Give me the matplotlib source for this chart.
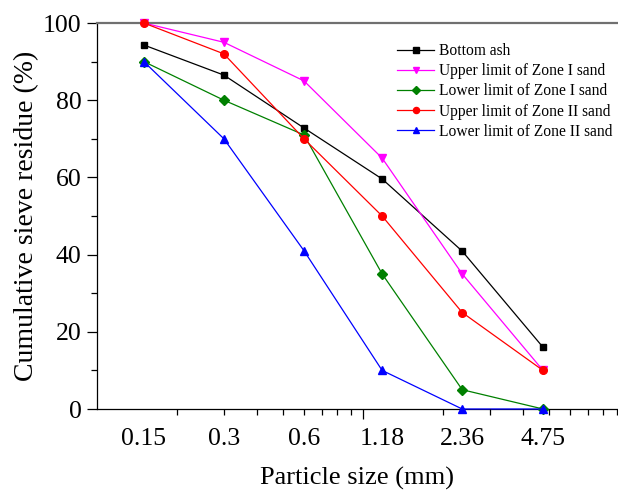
import matplotlib
matplotlib.use("Agg")
import matplotlib.pyplot as plt
from matplotlib.ticker import LogLocator, NullFormatter, FixedLocator

plt.rcParams['font.family'] = ['Liberation Serif', 'DejaVu Serif']

sizes = [0.15, 0.3, 0.6, 1.18, 2.36, 4.75]
size_labels = ['0.15', '0.3', '0.6', '1.18', '2.36', '4.75']
bottom_ash = [94.3, 86.5, 72.8, 59.6, 40.9, 16.0]
upper_zone1 = [100, 95, 85, 65, 35, 10]
lower_zone1 = [90, 80, 71, 35, 5, 0]
upper_zone2 = [100, 92, 70, 50, 25, 10]
lower_zone2 = [90, 70, 41, 10, 0, 0]

series = [
    ("Bottom ash", bottom_ash, "black", "s", 4.8),
    ("Upper limit of Zone I sand", upper_zone1, "#ff00ff", "v", 6),
    ("Lower limit of Zone I sand", lower_zone1, "#008000", "D", 5),
    ("Upper limit of Zone II sand", upper_zone2, "#ff0000", "o", 5.5),
    ("Lower limit of Zone II sand", lower_zone2, "#0000ff", "^", 6),
]

fig = plt.figure(figsize=(6.18, 4.93), dpi=100)
ax = fig.add_axes([97/618, 84/493, 521/618, 386/493])

for name, vals, col, mk, ms in series:
    ax.plot(sizes, vals, color=col, marker=mk, markersize=ms, linewidth=0.9,
            label=name, clip_on=False, zorder=3)

ax.set_xscale('log')
xlim = (0.1, 10 ** ((618 - 97) / 266 - 1))
ax.set_xlim(*xlim)
ax.set_ylim(0, 100)

ax.xaxis.set_major_locator(FixedLocator(sizes))
ax.set_xticklabels(size_labels)
ax.xaxis.set_minor_locator(FixedLocator([]))
ax.xaxis.set_minor_formatter(NullFormatter())
ax.tick_params(axis='x', which='major', length=0, pad=14, labelsize=18.5)

ax.set_yticks([0, 20, 40, 60, 80, 100])
ax.set_yticks([10, 30, 50, 70, 90], minor=True)
ax.tick_params(axis='y', which='major', direction='out', length=7, width=0.9, labelsize=18.5, pad=4)
ax.tick_params(axis='y', which='minor', direction='out', length=4, width=0.9)

ax.spines['right'].set_visible(False)
ax.spines['top'].set_color('#707070')
ax.spines['top'].set_linewidth(1.6)
ax.spines['left'].set_linewidth(0.9)
ax.spines['bottom'].set_linewidth(0.9)

# log tick marks (unlabelled) on bottom
ax2 = ax.twiny()
ax2.set_xscale('log')
ax2.set_xlim(*xlim)
ax2.xaxis.set_ticks_position('bottom')
ax2.xaxis.set_major_locator(FixedLocator([1.0]))
ax2.xaxis.set_minor_locator(LogLocator(base=10, subs=[2, 3, 4, 5, 6, 7, 8, 9], numticks=20))
ax2.xaxis.set_major_formatter(NullFormatter())
ax2.xaxis.set_minor_formatter(NullFormatter())
ax2.tick_params(axis='x', which='major', direction='out', length=7, width=0.9)
ax2.tick_params(axis='x', which='minor', direction='out', length=4, width=0.9)
for s in ax2.spines.values():
    s.set_visible(False)

ax.set_xlabel("Particle size (mm)", fontsize=19, labelpad=12)
ax.set_ylabel("Cumulative sieve residue (%)", fontsize=20, labelpad=3)

ax.legend(loc='upper left', bbox_to_anchor=(0.576, 0.948), frameon=False,
          fontsize=11.2, labelspacing=0.27, handlelength=2.4, handletextpad=0.3,
          borderpad=0, borderaxespad=0, markerscale=0.8)

fig.savefig("out.png", dpi=100)
